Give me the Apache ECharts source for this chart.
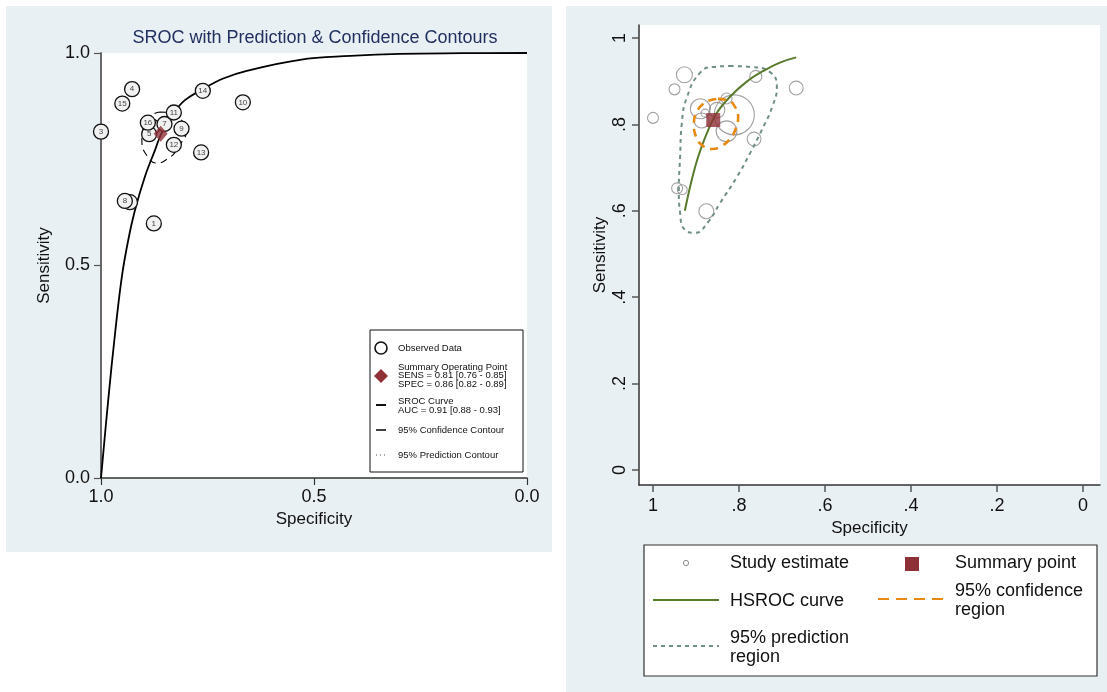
<!DOCTYPE html>
<html>
<head>
<meta charset="utf-8">
<script src="https://cdn.jsdelivr.net/npm/echarts@6/dist/echarts.min.js"></script>
<style>
html,body{margin:0;padding:0;background:#fff;}
#chart{width:1107px;height:692px;}
</style>
</head>
<body>
<div id="chart"></div>
<script>
// ---------- data ----------
const studyIds    = [2, 1, 3, 4, 5, 6, 7, 8, 9, 10, 11, 12, 13, 14, 15, 16];
const studySpec   = [0.879, 0.876, 1.000, 0.927, 0.887, 0.932, 0.851, 0.944, 0.811, 0.667, 0.829, 0.829, 0.765, 0.761, 0.950, 0.890];
const studySens   = [0.826, 0.599, 0.815, 0.915, 0.809, 0.649, 0.833, 0.652, 0.822, 0.884, 0.860, 0.784, 0.766, 0.911, 0.881, 0.836];
const studyWeight = [4, 14, 7.5, 16, 14, 6, 15, 7.5, 100, 12, 7.5, 27, 12, 9, 7.5, 25];

const summarySpec = 0.86;
const summarySens = 0.81;

// left panel SROC curve
const srocSpec = [1.0, 0.983, 0.967, 0.951, 0.936, 0.920, 0.897, 0.873, 0.858, 0.830, 0.803, 0.761, 0.713, 0.658, 0.533, 0.415, 0.298, 0.15, 0.0];
const srocSens = [0.0, 0.184, 0.340, 0.474, 0.560, 0.631, 0.709, 0.772, 0.811, 0.858, 0.889, 0.915, 0.940, 0.958, 0.984, 0.993, 0.998, 0.9995, 1.0];

// left panel 95% confidence contour
const confLSpec = [0.8615, 0.831, 0.815, 0.8005, 0.810, 0.824, 0.838, 0.8685, 0.892, 0.904, 0.901, 0.892, 0.878, 0.8615];
const confLSens = [0.861, 0.859, 0.848, 0.812, 0.791, 0.769, 0.755, 0.741, 0.758, 0.795, 0.824, 0.842, 0.856, 0.861];

// right panel HSROC curve
const hsSpec = [0.926, 0.910, 0.895, 0.875, 0.852, 0.821, 0.782, 0.743, 0.705, 0.667];
const hsSens = [0.600, 0.671, 0.725, 0.779, 0.826, 0.864, 0.899, 0.924, 0.943, 0.955];

// right panel 95% confidence region
const confRSpec = [0.849, 0.826, 0.809, 0.802, 0.807, 0.819, 0.840, 0.863, 0.886, 0.900, 0.905, 0.898, 0.884, 0.867, 0.849];
const confRSens = [0.859, 0.856, 0.840, 0.817, 0.792, 0.769, 0.750, 0.743, 0.752, 0.771, 0.801, 0.829, 0.847, 0.856, 0.859];

// right panel 95% prediction region
const predSpec = [0.821, 0.774, 0.728, 0.712, 0.723, 0.747, 0.774, 0.805, 0.844, 0.872, 0.902, 0.926, 0.937, 0.940, 0.937, 0.933, 0.921, 0.891, 0.860, 0.821];
const predSens = [0.935, 0.933, 0.921, 0.887, 0.840, 0.787, 0.734, 0.678, 0.618, 0.574, 0.549, 0.556, 0.595, 0.648, 0.725, 0.803, 0.863, 0.919, 0.933, 0.935];

const leftTicks  = [0, 0.5, 1];
const rightTicks = [0, 0.2, 0.4, 0.6, 0.8, 1];

// ---------- helpers / styles ----------
const pairs = (xs, ys) => xs.map((x, i) => [x, ys[i]]);
const stataLabel = v => {
  const r = Math.round(v * 10) / 10;
  if (r === 0) return '0';
  if (r === 1) return '1';
  return '.' + Math.round(r * 10);
};
const obscuredLabels = [2, 6];   // labels covered by overlapping markers in the original
const FONT = '"Liberation Sans", Arial, sans-serif';
const BG = '#e9f0f3';

const chart = echarts.init(document.getElementById('chart'), null, {renderer: 'canvas'});

const option = {
  backgroundColor: '#ffffff',
  animation: false,
  textStyle: {fontFamily: FONT},
  grid: [
    {left: 101, top: 53, width: 426, height: 425, show: true, backgroundColor: '#ffffff', borderWidth: 0},
    {left: 639, top: 25, width: 461, height: 460, show: true, backgroundColor: '#ffffff', borderWidth: 0}
  ],
  xAxis: [
    {
      gridIndex: 0, type: 'value', min: 0, max: 1, inverse: true, position: 'bottom',
      splitLine: {show: false},
      axisLine: {show: true, onZero: false, lineStyle: {color: '#333', width: 1.5}},
      axisTick: {show: true, length: 7, customValues: leftTicks, lineStyle: {color: '#333', width: 1.2}},
      axisLabel: {fontSize: 18, color: '#111', margin: 10, customValues: leftTicks, formatter: v => v.toFixed(1), fontFamily: FONT},
      name: 'Specificity', nameLocation: 'middle', nameGap: 32,
      nameTextStyle: {fontSize: 17, color: '#111', fontFamily: FONT}
    },
    {
      gridIndex: 1, type: 'value', min: -0.0395, max: 1.0326, inverse: true, position: 'bottom',
      splitLine: {show: false},
      axisLine: {show: true, onZero: false, lineStyle: {color: '#333', width: 1.5}},
      axisTick: {show: true, length: 7, customValues: rightTicks, lineStyle: {color: '#555', width: 1.5}},
      axisLabel: {fontSize: 18, color: '#111', margin: 12, customValues: rightTicks, formatter: stataLabel, fontFamily: FONT},
      name: 'Specificity', nameLocation: 'middle', nameGap: 28,
      nameTextStyle: {fontSize: 17, color: '#111', fontFamily: FONT}
    }
  ],
  yAxis: [
    {
      gridIndex: 0, type: 'value', min: 0, max: 1, position: 'left',
      splitLine: {show: false},
      axisLine: {show: true, onZero: false, lineStyle: {color: '#6a6a6a', width: 2}},
      axisTick: {show: true, length: 7, customValues: leftTicks, lineStyle: {color: '#555', width: 1.2}},
      axisLabel: {fontSize: 18, color: '#111', margin: 11, customValues: leftTicks, formatter: v => v.toFixed(1), fontFamily: FONT},
      name: 'Sensitivity', nameLocation: 'middle', nameGap: 48,
      nameTextStyle: {fontSize: 17, color: '#111', fontFamily: FONT}
    },
    {
      gridIndex: 1, type: 'value', min: -0.0347, max: 1.030, position: 'left',
      splitLine: {show: false},
      axisLine: {show: true, onZero: false, lineStyle: {color: '#333', width: 1.5}},
      axisTick: {show: true, length: 7, customValues: rightTicks, lineStyle: {color: '#555', width: 1.5}},
      axisLabel: {fontSize: 18, color: '#111', margin: 10, rotate: 90, customValues: rightTicks, formatter: stataLabel, fontFamily: FONT},
      name: 'Sensitivity', nameLocation: 'middle', nameGap: 30,
      nameTextStyle: {fontSize: 17, color: '#111', fontFamily: FONT}
    }
  ],
  series: [
    // ----- left panel -----
    {
      type: 'line', xAxisIndex: 0, yAxisIndex: 0, data: pairs(srocSpec, srocSens),
      smooth: 0.4, showSymbol: false, lineStyle: {color: '#000', width: 1.8}, z: 3
    },
    {
      type: 'line', xAxisIndex: 0, yAxisIndex: 0, data: pairs(confLSpec, confLSens),
      smooth: 0.5, showSymbol: false, lineStyle: {color: '#000', width: 1.1, type: [7, 5]}, z: 3
    },
    {
      type: 'scatter', xAxisIndex: 0, yAxisIndex: 0,
      data: studySpec.map((s, i) => [s, studySens[i]]),
      symbol: 'circle', symbolSize: 15,
      itemStyle: {color: '#f1f1f1', borderColor: '#111', borderWidth: 1.3, opacity: 1},
      label: {show: true, position: 'inside', fontSize: 8, color: '#444', fontFamily: FONT,
              formatter: p => obscuredLabels.includes(studyIds[p.dataIndex]) ? '' : String(studyIds[p.dataIndex])},
      z: 4
    },
    {
      type: 'scatter', xAxisIndex: 0, yAxisIndex: 0, data: [[summarySpec, summarySens]],
      symbol: 'diamond', symbolSize: [14, 16], itemStyle: {color: '#8f3036'}, z: 6
    },
    // ----- right panel -----
    {
      type: 'scatter', xAxisIndex: 1, yAxisIndex: 1, data: pairs(studySpec, studySens),
      symbol: 'circle', symbolSize: (v, p) => 4 * Math.sqrt(studyWeight[p.dataIndex]),
      itemStyle: {color: 'rgba(255,255,255,0)', borderColor: '#8a8a8a', borderWidth: 1.1}, z: 3
    },
    {
      type: 'line', xAxisIndex: 1, yAxisIndex: 1, data: pairs(predSpec, predSens),
      smooth: 0.5, showSymbol: false, lineStyle: {color: '#6f8f87', width: 2, type: [4, 4]}, z: 4
    },
    {
      type: 'line', xAxisIndex: 1, yAxisIndex: 1, data: pairs(hsSpec, hsSens),
      smooth: 0.4, showSymbol: false, lineStyle: {color: '#587a2c', width: 2}, z: 5
    },
    {
      type: 'line', xAxisIndex: 1, yAxisIndex: 1, data: pairs(confRSpec, confRSens),
      smooth: 0.5, showSymbol: false, lineStyle: {color: '#e8890f', width: 2.6, type: [8, 6]}, z: 6
    },
    {
      type: 'scatter', xAxisIndex: 1, yAxisIndex: 1, data: [[summarySpec, summarySens]],
      symbol: 'rect', symbolSize: 14, itemStyle: {color: '#8f3036'}, z: 7
    }
  ],
  graphic: [
    // panel backgrounds
    {type: 'rect', z: -100, silent: true, shape: {x: 6, y: 6, width: 546, height: 546}, style: {fill: BG}},
    {type: 'rect', z: -100, silent: true, shape: {x: 566, y: 6, width: 541, height: 686}, style: {fill: BG}},
    // left title
    {type: 'text', z: 50, style: {x: 315, y: 38, text: 'SROC with Prediction & Confidence Contours',
      font: '18px ' + FONT, fill: '#22305f', textAlign: 'center', textVerticalAlign: 'middle', align: 'center', verticalAlign: 'middle'}},
    // left legend box
    {type: 'rect', z: 50, shape: {x: 370, y: 330, width: 153, height: 142}, style: {fill: '#fff', stroke: '#111', lineWidth: 1}},
    {type: 'circle', z: 51, shape: {cx: 381, cy: 348, r: 6}, style: {fill: '#fff', stroke: '#111', lineWidth: 1.6}},
    {type: 'polygon', z: 51, shape: {points: [[381, 369], [388, 376], [381, 383], [374, 376]]}, style: {fill: '#8f3036'}},
    {type: 'line', z: 51, shape: {x1: 376, y1: 405, x2: 386, y2: 405}, style: {stroke: '#111', lineWidth: 2}},
    {type: 'line', z: 51, shape: {x1: 376, y1: 430, x2: 386, y2: 430}, style: {stroke: '#111', lineWidth: 1.6}},
    {type: 'line', z: 51, shape: {x1: 376, y1: 455, x2: 387, y2: 455}, style: {stroke: '#555', lineWidth: 1, lineDash: [1, 3]}},
    ...[
      ['Observed Data', 348],
      ['Summary Operating Point', 367],
      ['SENS = 0.81 [0.76 - 0.85]', 375.5],
      ['SPEC = 0.86 [0.82 - 0.89]', 384],
      ['SROC Curve', 401],
      ['AUC = 0.91 [0.88 - 0.93]', 410],
      ['95% Confidence Contour', 430],
      ['95% Prediction Contour', 455]
    ].map(([t, y]) => ({type: 'text', z: 52, style: {x: 398, y: y, text: t, font: '9.5px ' + FONT, fill: '#111',
      textAlign: 'left', textVerticalAlign: 'middle', align: 'left', verticalAlign: 'middle'}})),
    // right legend box
    {type: 'rect', z: 50, shape: {x: 644, y: 545, width: 453, height: 131}, style: {fill: '#fff', stroke: '#333', lineWidth: 1.2}},
    {type: 'circle', z: 51, shape: {cx: 686, cy: 563, r: 2.6}, style: {fill: '#fff', stroke: '#8a8a8a', lineWidth: 1}},
    {type: 'rect', z: 51, shape: {x: 905, y: 557, width: 14, height: 14}, style: {fill: '#8f3036'}},
    {type: 'line', z: 51, shape: {x1: 653, y1: 600, x2: 719, y2: 600}, style: {stroke: '#587a2c', lineWidth: 2}},
    {type: 'line', z: 51, shape: {x1: 878, y1: 599, x2: 945, y2: 599}, style: {stroke: '#e8890f', lineWidth: 2.2, lineDash: [11, 7]}},
    {type: 'line', z: 51, shape: {x1: 653, y1: 646, x2: 719, y2: 646}, style: {stroke: '#6f8f87', lineWidth: 1.8, lineDash: [4, 4]}},
    ...[
      ['Study estimate', 730, 563],
      ['Summary point', 955, 563],
      ['HSROC curve', 730, 601],
      ['95% confidence', 955, 591],
      ['region', 955, 610],
      ['95% prediction', 730, 638],
      ['region', 730, 657]
    ].map(([t, x, y]) => ({type: 'text', z: 52, style: {x: x, y: y, text: t, font: '18px ' + FONT, fill: '#111',
      textAlign: 'left', textVerticalAlign: 'middle', align: 'left', verticalAlign: 'middle'}}))
  ]
};

chart.setOption(option);
</script>
</body>
</html>
